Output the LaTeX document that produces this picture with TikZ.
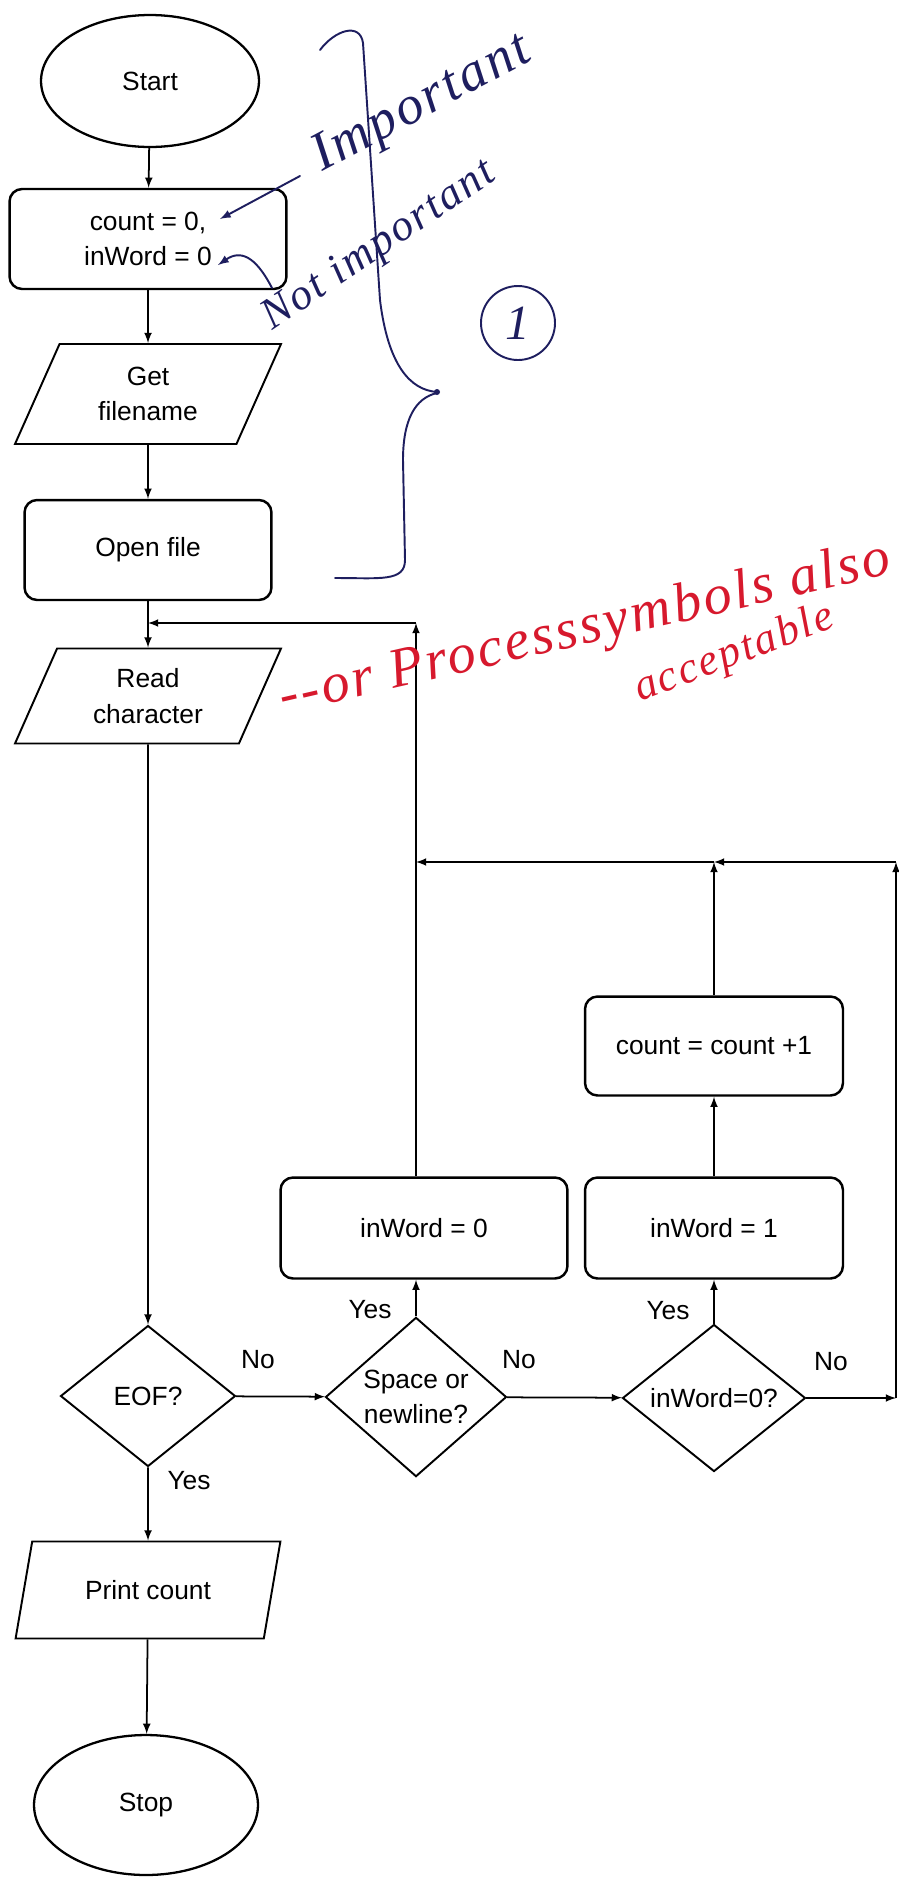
\documentclass[tikz,border=0pt]{standalone}
\usepackage{fontspec}
\setmainfont{Liberation Sans}
\newfontfamily\handfont{Liberation Serif}[LetterSpace=5]
\usetikzlibrary{shapes.geometric}

\definecolor{ink}{RGB}{30,30,95}
\definecolor{redink}{RGB}{215,25,45}

\tikzset{
  box/.style={draw,rounded corners=0.25cm,line width=1.4pt,align=center,inner sep=0pt},
  io/.style={draw,trapezium,trapezium left angle=65,trapezium right angle=115,
    trapezium stretches=true,line width=1.1pt,align=center,
    minimum width=5.34cm,minimum height=2cm,inner sep=0pt},
  term/.style={draw,ellipse,line width=1.3pt,inner sep=0pt},
  decision/.style={draw,diamond,line width=1.1pt,align=center,inner sep=0pt},
  flow/.style={->,line width=1pt},
  lbl/.style={inner sep=0pt},
  hand/.style={ink,line width=1.1pt,line cap=round},
  note/.style={anchor=base west,inner sep=0pt},
}

\begin{document}
\begin{tikzpicture}[x=0.02cm,y=-0.02cm,>=latex,font=\fontsize{15}{20}\selectfont]
\useasboundingbox (0,0) rectangle (899,1877);

\node[term,minimum width=4.36cm,minimum height=2.64cm] (start) at (150,81) {Start};
\node[box,minimum width=5.54cm,minimum height=2cm] (init) at (148,239) {count = 0,\\inWord = 0};
\node[io] (getf) at (148,394) {Get\\filename};
\node[box,minimum width=4.94cm,minimum height=2cm] (open) at (148,550) {Open file};
\node[io,minimum height=1.9cm] (read) at (148,696) {Read\\character};
\node[decision,minimum width=3.5cm,minimum height=2.82cm] (eof) at (148,1396) {EOF?};
\node[io,minimum height=1.94cm] (print) at (148,1590) {Print count};
\node[term,minimum width=4.48cm,minimum height=2.8cm] (stop) at (146,1805) {Stop};

\node[decision,minimum width=3.62cm,minimum height=2.9cm] (space) at (416,1397) {Space or\\newline?};
\node[decision,minimum width=3.66cm,minimum height=2.94cm] (inq) at (714,1398) {inWord=0?};
\node[box,minimum width=5.74cm,minimum height=2.02cm] (word0) at (424,1228) {inWord = 0};
\node[box,minimum width=5.16cm,minimum height=2.02cm] (word1) at (714,1228) {inWord = 1};
\node[box,minimum width=5.16cm,minimum height=1.98cm] (inc) at (714,1046) {count = count +1};

\coordinate (j0) at (148,623);
\coordinate (j1) at (416,623);
\coordinate (j2) at (416,862);
\coordinate (j3) at (714,862);
\coordinate (r1) at (896,1398);
\coordinate (r2) at (896,862);

\draw[flow] (start) -- (init);
\draw[flow] (init) -- (getf);
\draw[flow] (getf) -- (open);
\draw[flow] (open) -- (read);
\draw[flow] (read) -- (eof);
\draw[flow] (eof) -- (print);
\draw[flow] (print) -- (stop);
\draw[flow] (eof) -- (space);
\draw[flow] (space) -- (inq);
\draw[flow] (space.north) -- (space.north |- word0.south);
\draw[flow] (inq) -- (word1);
\draw[flow] (word1) -- (inc);
\draw[flow] (inq) -- (r1);
\draw[flow] (r1) -- (r2);
\draw[flow] (r2) -- (j3);
\draw[flow] (inc) -- (j3);
\draw[flow] (j3) -- (j2);
\draw[flow] (j1 |- word0.north) -- (j1);
\draw[flow] (j1) -- (j0);

\node[lbl] (eofno) at (258,1360) {No};
\node[lbl] (eofyes) at (189,1481) {Yes};
\node[lbl] (spyes) at (370,1310) {Yes};
\node[lbl] (spno) at (519,1360) {No};
\node[lbl] (inyes) at (668,1311) {Yes};
\node[lbl] (inno) at (831,1362) {No};

% handwritten notes
\draw[hand] (320,50) .. controls (335,30) and (360,22) .. (363,43) -- (380,300)
  .. controls (388,365) and (410,390) .. (437,392);
\fill[ink] (437,392) circle (3);
\draw[hand] (437,393) .. controls (415,398) and (403,420) .. (403,460) -- (405,560)
  .. controls (405,582) and (380,578) .. (335,578);
\node[note,ink,rotate=28,font=\handfont\itshape\fontsize{31}{31}\selectfont] (imp) at (322,172) {Important};
\node[note,ink,rotate=34,font=\handfont\itshape\fontsize{25}{25}\selectfont] (notimp) at (272,331) {Not important};
\draw[hand,->] (300,176) -- (220,219);
\draw[hand,->] (272,288) .. controls (255,255) and (240,250) .. (218,265);
\draw[hand] (518,323) circle (37);
\node[ink,font=\handfont\itshape\fontsize{28}{28}\selectfont] (one) at (518,323) {1};

\node[note,redink,rotate=13,font=\handfont\itshape\fontsize{32}{32}\selectfont] (alt) at (283,714) {--or Processsymbols also};
\node[note,redink,rotate=21,font=\handfont\itshape\fontsize{25}{25}\selectfont] (acc) at (640,702) {acceptable};

\end{tikzpicture}
\end{document}
